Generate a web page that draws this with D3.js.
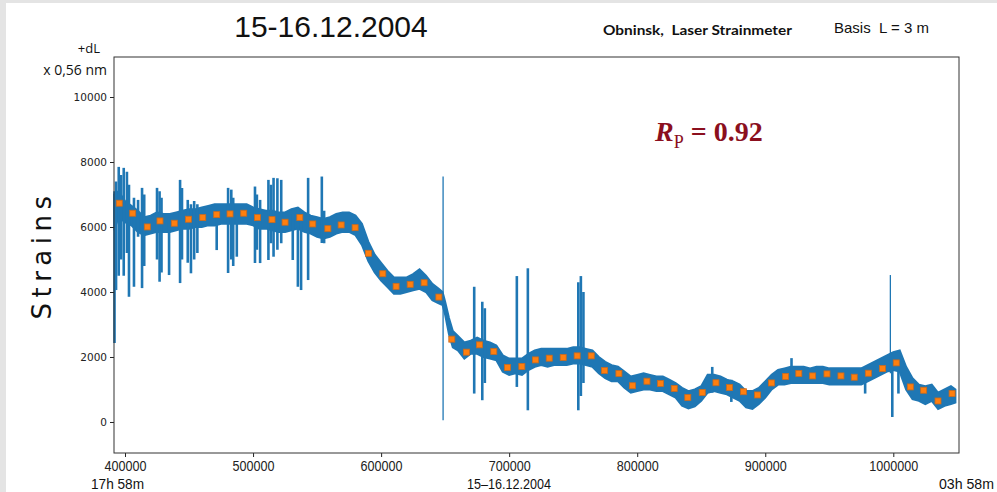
<!DOCTYPE html>
<html><head><meta charset="utf-8">
<script src="https://cdn.jsdelivr.net/npm/d3@7"></script>
<style>body{margin:0;background:#fff}svg{display:block}text{white-space:pre}</style>
</head><body><svg id="c" width="997" height="492"></svg>
<script>
// ---------- data ----------
const yTicks = [0, 2000, 4000, 6000, 8000, 10000];
const xTicks = [400000, 500000, 600000, 700000, 800000, 900000, 1000000];

// envelope of the dense strain signal (lower / upper edge of the band)
const envX = [391500,395000,400000,405000,410000,415000,420000,425000,430000,435000,440000,445000,450000,455000,460000,465000,470000,475000,480000,485000,490000,495000,500000,505000,510000,515000,520000,525000,530000,535000,540000,545000,550000,555000,560000,565000,570000,575000,580000,585000,590000,595000,600000,605000,610000,615000,620000,625000,630000,635000,640000,645000,648000,650000,653000,656000,660000,665000,670000,675000,680000,685000,690000,695000,700000,705000,710000,715000,720000,725000,730000,735000,740000,745000,750000,755000,760000,765000,770000,775000,780000,785000,790000,795000,800000,805000,810000,815000,820000,825000,830000,835000,840000,845000,850000,855000,860000,865000,870000,875000,880000,885000,890000,895000,900000,905000,910000,915000,920000,925000,930000,935000,940000,945000,950000,955000,960000,965000,970000,975000,980000,985000,990000,995000,1000000,1005000,1010000,1015000,1020000,1025000,1030000,1035000,1040000,1045000,1048500];
const envLo = [5900,6300,6150,6050,5850,5750,5800,5850,5850,5850,5900,5950,5950,6000,6000,6050,6050,6100,6100,6100,6100,6100,6050,5950,5950,5900,5850,5850,5900,5950,5850,5800,5700,5650,5700,5800,5850,5850,5750,5450,4950,4600,4350,4150,3950,3950,4000,4050,4100,4000,3750,3650,3600,3300,2700,2300,2200,1950,2100,2100,2000,1950,1900,1550,1450,1500,1450,1600,1700,1750,1700,1750,1750,1750,1800,1800,1750,1700,1500,1350,1250,1250,1050,900,950,1000,1000,950,950,850,750,500,420,480,650,900,950,900,850,750,650,450,400,550,750,1000,1150,1150,1200,1200,1200,1200,1200,1200,1150,1150,1150,1150,1150,1150,1250,1350,1450,1550,1600,1550,1000,700,650,550,650,400,500,550,600];
const envHi = [7000,7100,6800,6650,6500,6300,6350,6450,6400,6400,6450,6500,6550,6550,6600,6650,6700,6700,6700,6700,6700,6700,6600,6550,6500,6500,6450,6450,6550,6600,6450,6350,6300,6250,6300,6400,6450,6450,6350,6100,5550,5150,4900,4650,4450,4450,4450,4550,4700,4500,4250,4100,4000,3700,3200,2800,2650,2450,2500,2600,2500,2450,2350,2050,1950,1950,1950,2100,2200,2250,2250,2250,2250,2250,2300,2300,2250,2200,2000,1850,1750,1700,1550,1400,1450,1500,1450,1400,1400,1300,1200,1050,950,1000,1100,1450,1450,1400,1300,1250,1150,950,950,1050,1250,1450,1600,1650,1700,1700,1700,1650,1700,1700,1650,1650,1650,1650,1650,1650,1750,1850,1950,2050,2150,2200,1700,1350,1150,1100,1150,900,1000,1100,1000];

// short excursions (spikes) of the signal
const spikeX  = [391800,393000,395100,396900,399000,401500,403100,407000,410200,413300,415000,425000,427000,428500,434400,443000,444500,449000,451500,454000,456500,471600,480500,483000,484500,487300,501500,503000,505500,512000,514000,516000,519000,522000,531000,535000,537500,543000,553700,555500,648400,672700,679000,681000,706000,714600,754000,756000,758000,858600,873500,920500,978000,997700,999200,1004000];
const spikeLo = [2430,4060,4500,5000,4500,5200,3853,4161,5700,4120,4800,5000,4316,4600,4522,4275,5000,4900,4575,5000,5200,5290,4585,5000,4800,5086,4892,5300,4890,4985,5500,5086,5300,5500,4985,4161,4060,4368,5508,5500,50,875,670,1200,1079,360,360,800,1200,900,617,1200,875,1500,154,875];
const spikeHi = [7100,7400,7850,7600,7820,7700,7300,6900,6834,7204,7000,7204,7100,6900,6300,7450,7200,6834,6700,6800,6700,6500,7204,7150,6900,6500,7245,7000,6834,7450,7300,7512,7500,7450,6400,6588,6400,7512,7553,6500,7553,4161,3700,3500,4490,4730,4300,4490,4000,1695,1300,1965,1500,4522,1800,2000];

// smoothed values (orange squares)
const markX = [395500,406000,417400,427300,438500,449500,460700,471600,482000,492700,503400,514800,525000,536500,546600,558400,568800,579700,590100,601300,611700,622700,633600,645100,655200,666600,676800,688000,698700,709900,720500,731300,742200,753100,764100,774500,785700,796300,807600,818200,828900,839500,850800,861500,872100,883000,894000,904800,915900,926200,937000,948200,959100,969500,980500,991600,1002300,1013300,1023700,1034900,1045900];
const markY = [6732,6424,6002,6187,6116,6239,6289,6381,6403,6424,6289,6227,6147,6289,6094,5949,6063,5980,5191,4562,4174,4236,4285,3844,2549,2149,2374,2170,1677,1708,1911,1964,1985,2035,2035,1584,1492,1116,1255,1187,1030,752,909,1208,1060,931,832,1202,1403,1492,1418,1480,1418,1378,1501,1646,1819,1079,977,647,875];

// ---------- drawing ----------
const svg = d3.select('#c');
const W = 997, H = 492;
const L = 114, R = 959, T = 57, B = 453;
const BLUE = '#1f77b4';

svg.append('rect').attr('width', W).attr('height', H).attr('fill', '#fff');
svg.append('rect').attr('x', 0).attr('y', 0).attr('width', 6).attr('height', H).attr('fill', '#e4e4e4');
svg.append('rect').attr('x', 0).attr('y', 0).attr('width', W).attr('height', 3).attr('fill', '#e4e4e4');

const x = d3.scaleLinear().domain([391400, 1051300]).range([L, R]);
const y = d3.scaleLinear().domain([-954, 11231]).range([B, T]);

// band
const idx = d3.range(envX.length);
const area = d3.area().x(i => x(envX[i])).y0(i => y(envLo[i])).y1(i => y(envHi[i]));
svg.append('path').attr('d', area(idx)).attr('fill', BLUE).attr('stroke', BLUE)
  .attr('stroke-width', 2).attr('stroke-linejoin', 'miter');

// spikes
svg.append('g').selectAll('line').data(d3.range(spikeX.length)).join('line')
  .attr('x1', i => x(spikeX[i])).attr('x2', i => x(spikeX[i]))
  .attr('y1', i => y(spikeLo[i])).attr('y2', i => y(spikeHi[i]))
  .attr('stroke', BLUE)
  .attr('stroke-width', i => (spikeX[i] === 648400 || spikeX[i] === 997700) ? 1.3 : 2.6);

// markers
svg.append('g').selectAll('rect').data(d3.range(markX.length)).join('rect')
  .attr('x', i => x(markX[i]) - 3).attr('y', i => y(markY[i]) - 3)
  .attr('width', 6).attr('height', 6)
  .attr('fill', '#ff7f0e').attr('stroke', '#c96a1f').attr('stroke-width', 0.8);

// axes
const yAx = svg.append('g').attr('transform', `translate(${L},0)`)
  .call(d3.axisLeft(y).tickValues(yTicks).tickSize(4).tickPadding(3).tickFormat(d3.format('d')));
yAx.select('.domain').remove();
yAx.selectAll('text').attr('font-family', 'DejaVu Sans').attr('font-size', 10.5).attr('fill', '#222');
yAx.selectAll('line').attr('stroke', '#222');

const xAx = svg.append('g').attr('transform', `translate(0,${B})`)
  .call(d3.axisBottom(x).tickValues(xTicks).tickSize(4).tickPadding(4).tickFormat(d3.format('d')));
xAx.select('.domain').remove();
xAx.selectAll('line').attr('stroke', '#222');
xAx.selectAll('text').attr('font-family', 'Liberation Sans').attr('font-size', 14).attr('fill', '#222')
  .attr('textLength', d => String(d).length * 7).attr('lengthAdjust', 'spacingAndGlyphs');

// frame
svg.append('rect').attr('x', L).attr('y', T).attr('width', R - L).attr('height', B - T)
  .attr('fill', 'none').attr('stroke', '#333').attr('stroke-width', 1);

// texts
svg.append('text').attr('x', 331).attr('y', 37).attr('text-anchor', 'middle')
  .attr('font-family', 'Liberation Sans').attr('font-size', 30).attr('fill', '#111').text('15-16.12.2004');
svg.append('text').attr('x', 603).attr('y', 35)
  .attr('font-family', 'Lato, Open Sans').attr('font-weight', 'bold').attr('font-size', 14).attr('fill', '#111')
  .attr('textLength', 189).attr('lengthAdjust', 'spacingAndGlyphs').text('Obninsk,  Laser Strainmeter');
svg.append('text').attr('x', 834).attr('y', 33)
  .attr('font-family', 'Liberation Sans').attr('font-size', 15).attr('fill', '#111').text('Basis  L = 3 m');
svg.append('text').attr('x', 100).attr('y', 53).attr('text-anchor', 'end')
  .attr('font-family', 'Open Sans').attr('font-size', 13).attr('fill', '#111').text('+dL');
svg.append('text').attr('x', 107).attr('y', 75).attr('text-anchor', 'end')
  .attr('font-family', 'Open Sans').attr('font-size', 14).attr('fill', '#111').text('x 0,56 nm');

svg.append('text').attr('transform', 'translate(50.5,255) rotate(-90)').attr('text-anchor', 'middle')
  .attr('font-family', 'DejaVu Sans').attr('font-size', 26).attr('letter-spacing', 5.5).attr('fill', '#111').text('Strains');

const bl = [['17h 58m', 91, 53], ['15\u201316.12.2004', 467, 84], ['03h 58m', 939, 55]];
bl.forEach(([t, xx, w]) => svg.append('text').attr('x', xx).attr('y', 489)
  .attr('font-family', 'Liberation Sans').attr('font-size', 15).attr('fill', '#111')
  .attr('textLength', w).attr('lengthAdjust', 'spacingAndGlyphs').text(t));

const rp = svg.append('text').attr('x', 655).attr('y', 141).attr('fill', '#8b0f1e')
  .attr('font-family', 'Liberation Serif').attr('font-weight', 'bold').attr('font-size', 28);
rp.append('tspan').attr('font-style', 'italic').text('R');
rp.append('tspan').attr('font-weight', 'normal').attr('font-size', 18).attr('dy', 7).text('P');
rp.append('tspan').attr('dy', -7).text(' = 0.92');
</script></body></html>
